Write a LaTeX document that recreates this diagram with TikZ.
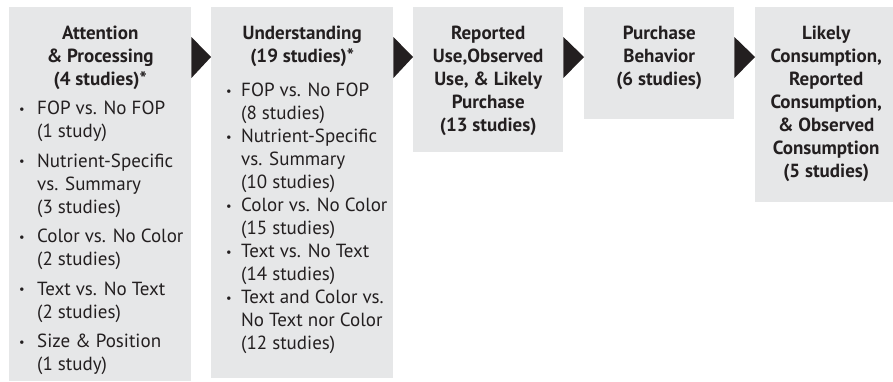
\documentclass[tikz,border=0pt]{standalone}
\usepackage{fontspec}
\usepackage{graphicx}
\setmainfont{PT Sans}
\usetikzlibrary{calc}
\definecolor{boxgray}{HTML}{E6E7E8}
\definecolor{darkink}{HTML}{231F20}
\newcommand{\bul}[1]{\makebox[#1][l]{\raisebox{0.15ex}{\scalebox{0.65}{•}}}}
\newcommand{\ind}[1]{\makebox[#1]{}}
\begin{document}
\begin{tikzpicture}[x=1pt,y=-1pt,
  stagebox/.style={fill=boxgray, draw=none, inner sep=0pt, anchor=north west},
  titletext/.style={anchor=north, inner sep=0pt, align=center, text=darkink,
    font=\fontsize{19}{23}\selectfont\bfseries},
  bodytext/.style={anchor=north west, inner sep=0pt, align=left, text=darkink,
    font=\fontsize{19}{23}\selectfont},
  tip/.style={fill=darkink, draw=none}]
\useasboundingbox (0,0) rectangle (893,381);
% boxes
\node[stagebox, minimum width=182pt, minimum height=374pt] (b1) at (9,7) {};
\node[stagebox, minimum width=182pt, minimum height=371pt] (b2) at (211,7) {};
\node[stagebox, minimum width=150pt, minimum height=145pt] (b3) at (413,7) {};
\node[stagebox, minimum width=150pt, minimum height=112pt] (b4) at (584,7) {};
\node[stagebox, minimum width=138pt, minimum height=195pt] (b5) at (755,7) {};
% arrow heads
\fill[tip] ($(b1.north east)+(0,30)$) -- ($(b2.north west)+(0,50)$) -- ($(b1.north east)+(0,71)$) -- cycle;
\fill[tip] ($(b2.north east)+(0,30)$) -- ($(b3.north west)+(0,50)$) -- ($(b2.north east)+(0,71)$) -- cycle;
\fill[tip] ($(b3.north east)+(0,30)$) -- ($(b4.north west)+(0,50)$) -- ($(b3.north east)+(0,71)$) -- cycle;
\fill[tip] ($(b4.north east)+(0,30)$) -- ($(b5.north west)+(0,50)$) -- ($(b4.north east)+(0,71)$) -- cycle;
% titles
\node[titletext] (t1) at ($(b1.north)+(0,19)$) {Attention\\\& Processing\\(4 studies)*};
\node[titletext] (t2) at ($(b2.north)+(0,19)$) {Understanding\\(19 studies)*};
\node[titletext] (t3) at ($(b3.north)+(0,19)$) {Reported\\Use,Observed\\Use, \& Likely\\Purchase\\(13 studies)};
\node[titletext] (t4) at ($(b4.north)+(0,19)$) {Purchase\\Behavior\\(6 studies)};
\node[titletext] (t5) at ($(b5.north)+(2,19)$) {Likely\\Consumption,\\Reported\\Consumption,\\\& Observed\\Consumption\\(5 studies)};
% lists
\node[bodytext] (l1) at (19,101) {%
\bul{18pt}FOP vs. No FOP\\\ind{18pt}(1 study)\\[6.5pt]%
\bul{18pt}Nutrient-Specific\\\ind{18pt}vs. Summary\\\ind{18pt}(3 studies)\\[6.5pt]%
\bul{18pt}Color vs. No Color\\\ind{18pt}(2 studies)\\[6.5pt]%
\bul{18pt}Text vs. No Text\\\ind{18pt}(2 studies)\\[6.5pt]%
\bul{18pt}Size \& Position\\\ind{18pt}(1 study)};
\node[bodytext] (l2) at (226,83) {%
\bul{15pt}FOP vs. No FOP\\\ind{15pt}(8 studies)\\%
\bul{15pt}Nutrient-Specific\\\ind{15pt}vs. Summary\\\ind{15pt}(10 studies)\\%
\bul{15pt}Color vs. No Color\\\ind{15pt}(15 studies)\\%
\bul{15pt}Text vs. No Text\\\ind{15pt}(14 studies)\\%
\bul{15pt}Text and Color vs.\\\ind{15pt}No Text nor Color\\\ind{15pt}(12 studies)};
\end{tikzpicture}
\end{document}
